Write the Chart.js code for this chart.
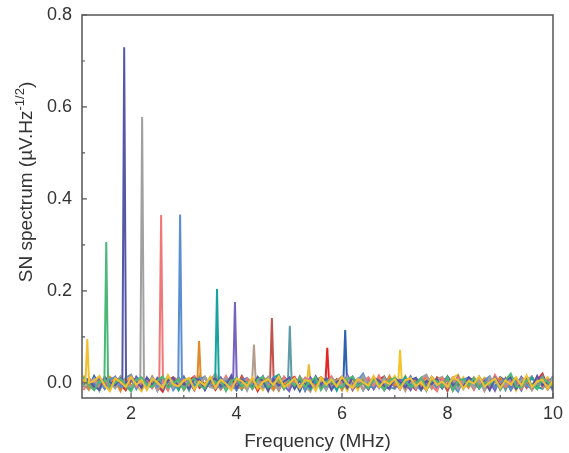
<!DOCTYPE html>
<html>
<head>
<meta charset="utf-8">
<script src="https://cdn.jsdelivr.net/npm/chart.js@4.4.1/dist/chart.umd.min.js"></script>
<style>
    html, body { margin: 0; padding: 0; background: #fff; }
    #wrap { width: 569px; height: 453px; }
</style>
</head>
<body>
<div id="wrap"><canvas id="snChart"></canvas></div>
<script>
// peak frequency (MHz), peak height and colour of each trace
const peakFreq = [1.17, 1.53, 1.87, 2.21, 2.57, 2.93, 3.29, 3.63, 3.97, 4.33, 4.67, 5.01, 5.37, 5.72, 6.06, 7.10];
const peakHeight = [0.095, 0.306, 0.730, 0.578, 0.365, 0.366, 0.091, 0.204, 0.176, 0.083, 0.141, 0.124, 0.040, 0.076, 0.115, 0.072];
const traceColors = ['#f0c030', '#4cb878', '#5558a6', '#a0a0a0', '#f07878', '#5a8ed0', '#e08a28', '#18a49e',
    '#7862c0', '#b49c8c', '#c2524c', '#5e9ca8', '#e8bc34', '#e62424', '#2c62b0', '#f2c42c'];

const xTicks = [2, 4, 6, 8, 10];
const xMinor = [3, 5, 7, 9];
const yTicks = [0.0, 0.2, 0.4, 0.6, 0.8];
const yMinor = [0.1, 0.3, 0.5, 0.7];

// baseline noise read roughly off the band around zero (step 0.1 MHz from 1.1 MHz)
const noiseStart = 1.1;
const noiseStep = 0.1;
const noiseA = [.008,-.012,.004,.015,-.006,-.018,.010,.002,-.009,.012,-.004,.006,-.015,.009,.001,-.011,.017,-.003,-.008,.005,
    .011,-.014,.003,-.006,.013,-.010,.007,-.002,-.016,.009,.004,-.007,.012,-.013,.002,.008,-.005,.014,-.009,-.001,
    .010,-.012,.006,.003,-.017,.011,-.004,.007,-.008,.013,-.002,-.011,.009,.001,-.006,.015,-.010,.004,-.003,.008,
    -.013,.006,.010,-.007,.002,-.015,.012,-.005,.003,-.009,.011,.006,-.012,.004,-.002,.014,-.008,.001,.009,-.011,
    .005,-.004,.012,-.006,.016,-.010,.003,.007,-.013,.005];
const noiseB = [-.010,.006,-.003,-.014,.009,.002,-.008,.013,-.005,-.016,.004,.010,-.012,.001,.008,-.006,-.019,.007,.011,-.004,
    -.009,.005,.014,-.011,-.002,.008,-.015,.003,.009,-.007,-.012,.012,-.001,.006,-.018,.004,.010,-.008,.002,-.013,
    .007,.013,-.010,-.004,.009,-.014,.005,-.006,.011,-.009,.003,.012,-.016,.002,.007,-.005,-.011,.008,.013,-.007,
    .001,-.012,.009,-.003,-.015,.006,.010,-.008,.004,-.010,-.002,.011,-.013,.007,.003,-.009,.012,-.017,.005,.008,
    -.006,.010,-.012,.001,-.004,.009,-.014,.006,.020,-.008];
const noiseC = [.003,-.016,.011,-.007,.005,.012,-.013,-.002,.009,-.010,.015,-.006,.002,-.012,.010,.004,-.008,-.015,.013,.001,
    -.005,.009,-.017,.006,.003,-.011,.012,-.004,.008,-.014,.005,.011,-.009,.000,-.013,.010,.006,-.016,.004,.009,
    -.007,-.003,.014,-.012,.007,-.001,-.010,.012,.004,-.018,.008,-.006,.003,.011,-.013,.006,-.002,-.009,.014,-.004,
    .009,-.016,.002,.007,-.011,.013,-.005,.001,-.014,.010,.005,-.007,-.012,.009,.002,-.010,.006,.011,-.015,.004,
    -.003,.008,-.011,.013,-.006,.002,-.009,.012,.004,-.012];
const noiseD = [-.006,.010,-.014,.002,.007,-.011,.005,-.017,.012,.003,-.008,-.004,.011,-.013,.006,.009,-.015,.001,.004,-.010,
    .013,-.007,-.002,.010,-.016,.008,.001,-.012,.014,-.005,-.009,.006,.003,-.014,.011,-.003,-.008,.012,-.011,.005,
    -.015,.008,.002,-.006,.012,-.009,-.013,.004,.010,-.002,-.011,.007,-.017,.009,.003,-.008,.013,-.001,-.014,.006,
    .011,-.005,-.010,.008,.002,-.013,.007,-.016,.010,.001,-.006,.012,-.009,-.003,.015,-.012,.004,-.007,.010,-.014,
    .008,.002,-.010,.005,-.013,.011,.018,-.005,.003,-.009];
const noiseSets = [noiseA, noiseB, noiseC, noiseD];

function buildTrace(i) {
    const noise = noiseSets[i % noiseSets.length];
    const f = peakFreq[i];
    const pts = [];
    for (let k = 0; k < noise.length; k++) {
        const j = (k + i * 7) % noise.length;  // shift so traces do not lie on top of each other
        const x = noiseStart + k * noiseStep;
        if (Math.abs(x - f) < 0.06) continue;
        pts.push({ x: x, y: noise[j] });
    }
    pts.push({ x: f - 0.035, y: 0 }, { x: f, y: peakHeight[i] }, { x: f + 0.035, y: 0 });
    pts.sort((a, b) => a.x - b.x);
    return pts;
}

const datasets = peakFreq.map((f, i) => ({
    data: buildTrace(i),
    borderColor: traceColors[i],
    borderWidth: 2,
    pointRadius: 0,
    tension: 0,
    fill: false
}));

const fontFamily = '"Liberation Sans", Arial, sans-serif';

// frame, inward tick marks and y title with superscript
const framePlugin = {
    id: 'frame',
    afterDraw(chart) {
        const ctx = chart.ctx;
        const a = chart.chartArea;
        const xs = chart.scales.x, ys = chart.scales.y;
        ctx.save();
        ctx.strokeStyle = '#555';
        ctx.lineWidth = 1.5;
        ctx.strokeRect(a.left, a.top, a.right - a.left, a.bottom - a.top);
        ctx.lineWidth = 1.2;
        ctx.beginPath();
        yTicks.forEach(v => { const p = ys.getPixelForValue(v); ctx.moveTo(a.left, p); ctx.lineTo(a.left + 5, p); });
        yMinor.forEach(v => { const p = ys.getPixelForValue(v); ctx.moveTo(a.left, p); ctx.lineTo(a.left + 3, p); });
        xTicks.forEach(v => { const p = xs.getPixelForValue(v); ctx.moveTo(p, a.bottom); ctx.lineTo(p, a.bottom - 5); });
        xMinor.forEach(v => { const p = xs.getPixelForValue(v); ctx.moveTo(p, a.bottom); ctx.lineTo(p, a.bottom - 3); });
        ctx.stroke();

        // y axis title
        ctx.translate(27, 182);
        ctx.rotate(-Math.PI / 2);
        ctx.fillStyle = '#333';
        ctx.textBaseline = 'middle';
        const main = '19px ' + fontFamily;
        const sup = '13px ' + fontFamily;
        const parts = [['SN spectrum (\u00b5V.Hz', main, 0], ['-1/2', sup, -7], [')', main, 0]];
        let total = 0;
        parts.forEach(p => { ctx.font = p[1]; total += ctx.measureText(p[0]).width; });
        let x = -total / 2;
        parts.forEach(p => {
            ctx.font = p[1];
            ctx.fillText(p[0], x, p[2]);
            x += ctx.measureText(p[0]).width;
        });
        ctx.restore();
    }
};

const ctx = document.getElementById('snChart').getContext('2d');
new Chart(ctx, {
    type: 'line',
    data: { datasets: datasets },
    options: {
        responsive: true,
        maintainAspectRatio: false,
        animation: false,
        layout: { padding: { left: 0, right: 16, top: 15, bottom: 0 } },
        scales: {
            x: {
                type: 'linear',
                min: 1.07,
                max: 10,
                afterBuildTicks: function (scale) { scale.ticks = xTicks.map(v => ({ value: v })); },
                afterFit: function (scale) {
                    scale.height = 55;
                    scale.paddingLeft = 0;
                    scale.paddingRight = 0;
                },
                grid: { display: false, drawTicks: false },
                border: { display: false },
                ticks: {
                    padding: 5,
                    color: '#333',
                    font: { family: fontFamily, size: 18 },
                    maxRotation: 0
                },
                title: {
                    display: true,
                    text: 'Frequency (MHz)',
                    color: '#333',
                    font: { family: fontFamily, size: 19 },
                    padding: { top: 4, bottom: 0 }
                }
            },
            y: {
                type: 'linear',
                min: -0.033,
                max: 0.8,
                afterBuildTicks: function (scale) { scale.ticks = yTicks.map(v => ({ value: v })); },
                afterFit: function (scale) {
                    scale.width = 82;
                    scale.paddingTop = 0;
                    scale.paddingBottom = 0;
                },
                grid: { display: false, drawTicks: false },
                border: { display: false },
                ticks: {
                    padding: 10,
                    color: '#333',
                    font: { family: fontFamily, size: 18 },
                    callback: function (value) { return value.toFixed(1); }
                }
            }
        },
        plugins: {
            legend: { display: false },
            tooltip: { enabled: false }
        }
    },
    plugins: [framePlugin]
});
</script>
</body>
</html>
